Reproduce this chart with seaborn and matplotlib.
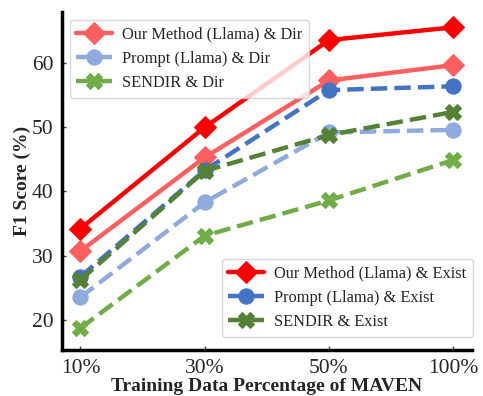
import matplotlib
matplotlib.use("Agg")
import matplotlib.pyplot as plt
import seaborn as sns
import pandas as pd

sns.set_theme(style="white")
plt.rcParams['font.family'] = ['Liberation Serif', 'DejaVu Serif']

x_labels = ["10%", "30%", "50%", "100%"]
ours_exist = [34.2, 50.0, 63.6, 65.6]
ours_dir = [30.7, 45.3, 57.3, 59.7]
prompt_exist = [26.7, 43.3, 55.8, 56.4]
prompt_dir = [23.5, 38.3, 49.2, 49.6]
sendir_exist = [26.2, 43.2, 48.8, 52.4]
sendir_dir = [18.7, 33.1, 38.6, 44.9]

series = [
    ("Our Method (Llama) & Dir", ours_dir, "#FF5F5F", "D", "-"),
    ("Prompt (Llama) & Dir", prompt_dir, "#8FAADC", "o", "--"),
    ("SENDIR & Dir", sendir_dir, "#70AD47", "X", "--"),
    ("Our Method (Llama) & Exist", ours_exist, "#FF0000", "D", "-"),
    ("Prompt (Llama) & Exist", prompt_exist, "#4472C4", "o", "--"),
    ("SENDIR & Exist", sendir_exist, "#548235", "X", "--"),
]

fig, ax = plt.subplots(figsize=(4.83, 3.96), dpi=100)
handles = []
for name, vals, color, marker, ls in series:
    df = pd.DataFrame({"x": range(len(x_labels)), "y": vals})
    sns.lineplot(data=df, x="x", y="y", ax=ax, color=color, marker=marker,
                 linestyle=ls, linewidth=3.2, markersize=11,
                 markeredgecolor=color, label=name, legend=False)
    handles.append(ax.lines[-1])

ax.set_xlim(-0.15, 3.15)
ax.set_ylim(15.2, 68)
ax.set_xticks(range(len(x_labels)))
ax.set_xticklabels(x_labels)
ax.set_yticks([20, 30, 40, 50, 60])
ax.tick_params(axis='both', labelsize=15.5, direction='in', length=3, width=1,
               left=True, bottom=True, pad=6, color="#444444")
ax.set_xlabel("Training Data Percentage of MAVEN", fontsize=14, fontweight='bold', labelpad=0.5)
ax.set_ylabel("F1 Score (%)", fontsize=14, fontweight='bold', labelpad=0.5)
for s in ["top", "right"]:
    ax.spines[s].set_visible(False)
for s in ["left", "bottom"]:
    ax.spines[s].set_linewidth(2.5)
    ax.spines[s].set_color("black")

leg_kw = dict(fontsize=11.8, frameon=True, handlelength=2.2,
              handletextpad=0.6, borderaxespad=0.0)
leg1 = ax.legend(handles=handles[:3], loc="upper left",
                 bbox_to_anchor=(0.0195, 0.976), **leg_kw)
ax.add_artist(leg1)
ax.legend(handles=handles[3:], loc="lower right",
          bbox_to_anchor=(1.003, 0.041), **leg_kw)

fig.subplots_adjust(left=0.128, right=0.977, top=0.97, bottom=0.115)
fig.savefig("out.png", dpi=100)
